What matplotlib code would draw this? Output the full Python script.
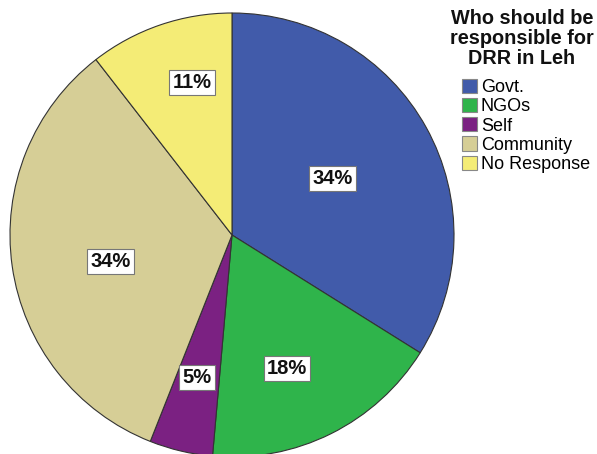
import numpy as np
import matplotlib.pyplot as plt
from matplotlib.patches import Patch

plt.rcParams['font.family'] = ['Liberation Sans', 'DejaVu Sans']

# --- DATA ---
categories = ["Govt.", "NGOs", "Self", "Community", "No Response"]
percent = [33.9, 17.5, 4.6, 33.5, 10.5]
colors = ["#415BAA", "#2FB44B", "#7B2182", "#D6CE96", "#F4EC76"]

# where each % box sits: fraction of radius, angular nudge (deg)
label_r = [0.52, 0.65, 0.66, 0.56, 0.71]
label_dang = [0.4, -4.2, -0.5, 4.0, -4.2]

fig = plt.figure(figsize=(5.97, 4.54), dpi=100)
ax = fig.add_axes([10 / 597, -3 / 454, 444 / 597, 444 / 454])

wedges, _ = ax.pie(percent, colors=colors, startangle=90, counterclock=False,
                   radius=1.0, wedgeprops=dict(edgecolor="#333333", linewidth=0.8))
ax.set_xlim(-1, 1)
ax.set_ylim(-1, 1)
ax.set_aspect("equal")
ax.axis("off")

# percentage boxes
for w, p, r, da in zip(wedges, percent, label_r, label_dang):
    ang = np.deg2rad((w.theta1 + w.theta2) / 2 + da)
    ax.text(r * np.cos(ang), r * np.sin(ang), f"{int(p + 0.5)}%",
            ha="center", va="center", fontsize=14.5, fontweight="bold",
            color="#111111",
            bbox=dict(boxstyle="square,pad=0.15", fc="white", ec="#777777", lw=0.8))

# legend
fig.text(522 / 597, 1 - 9 / 454, "Who should be\nresponsible for\nDRR in Leh",
         ha="center", va="top", multialignment="center", fontsize=14.3,
         fontweight="bold", linespacing=1.08, color="#111111")
handles = [Patch(facecolor=c, edgecolor="#888888", linewidth=0.8) for c in colors]
fig.legend(handles, categories, loc="upper left",
           bbox_to_anchor=(462 / 597, 1 - 79 / 454), frameon=False,
           fontsize=13, handlelength=0.83, handleheight=0.83,
           handletextpad=0.22, labelspacing=0.1, borderpad=0, borderaxespad=0)

fig.savefig("out.png", dpi=100)
